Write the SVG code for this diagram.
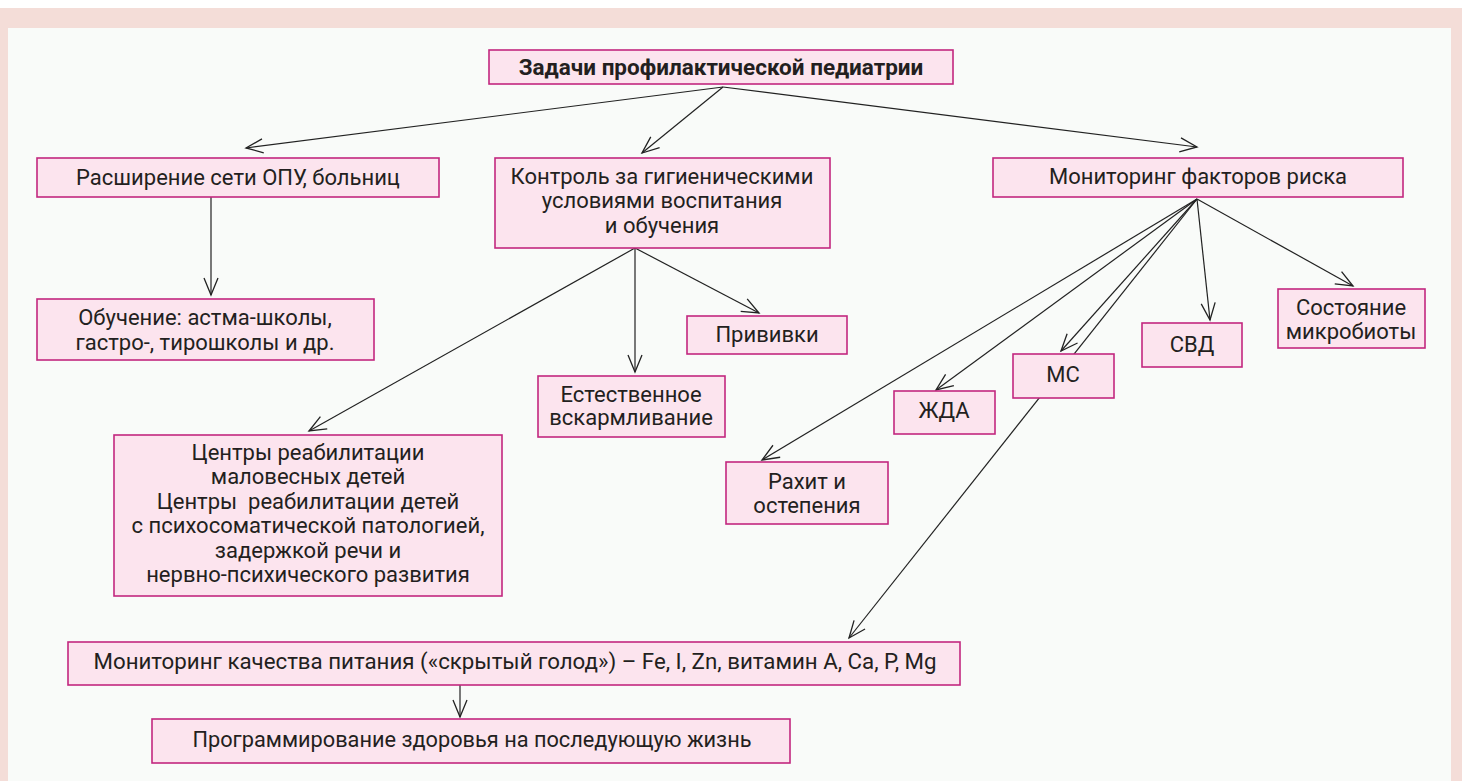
<svg xmlns="http://www.w3.org/2000/svg" width="1462" height="781" viewBox="0 0 1462 781">
<defs>
<marker id="arr" markerUnits="userSpaceOnUse" markerWidth="24" markerHeight="24" viewBox="-20 -12 24 24" refX="0" refY="0" orient="auto">
<path d="M-17,-7 L0,0 L-17,7" fill="none" stroke="#222" stroke-width="1.3"/>
</marker>
<style>
.box{fill:#fce4ee;stroke:#c2277f;stroke-width:1.6}
.t{font-family:Roboto,"Liberation Sans",sans-serif;font-size:22px;fill:#231f20;text-anchor:middle}
.b{font-weight:bold;font-size:22.5px}
.c line{stroke:#222;stroke-width:1.2;marker-end:url(#arr)}
</style>
</defs>
<rect x="0" y="0" width="1462" height="781" fill="#ffffff"/>
<rect x="0" y="8" width="1462" height="773" fill="#f4ddd8"/>
<rect x="8" y="28" width="1443" height="753" fill="#f9fbf9"/>
<g id="connectors" class="c">
<line x1="723" y1="87" x2="246" y2="148"/>
<line x1="723" y1="87" x2="642" y2="153"/>
<line x1="723" y1="87" x2="1197" y2="147"/>
<line x1="211" y1="197" x2="211" y2="295"/>
<line x1="635" y1="248" x2="309" y2="431"/>
<line x1="635" y1="248" x2="635" y2="372"/>
<line x1="635" y1="248" x2="759" y2="313"/>
<line x1="1197" y1="199" x2="762" y2="460"/>
<line x1="1197" y1="199" x2="936" y2="390"/>
<line x1="1197" y1="199" x2="1061" y2="351"/>
<line x1="1197" y1="199" x2="849" y2="638"/>
<line x1="1197" y1="199" x2="1210" y2="320"/>
<line x1="1197" y1="199" x2="1353" y2="286"/>
<line x1="460" y1="685" x2="460" y2="717"/>
</g>
<g id="n-top"><rect class="box" x="489" y="50" width="464" height="34"/><text class="t b" x="721" y="75">Задачи профилактической педиатрии</text></g>
<g id="n-rasshirenie"><rect class="box" x="37" y="158" width="402" height="39"/><text class="t" x="238" y="185">Расширение сети ОПУ, больниц</text></g>
<g id="n-kontrol"><rect class="box" x="495" y="158" width="335" height="90"/><text class="t" x="662" y="184">Контроль за гигиеническими</text><text class="t" x="662" y="208">условиями воспитания</text><text class="t" x="662" y="233">и обучения</text></g>
<g id="n-monitoring"><rect class="box" x="993" y="158" width="410" height="39"/><text class="t" x="1198" y="184">Мониторинг факторов риска</text></g>
<g id="n-obuchenie"><rect class="box" x="37" y="299" width="337" height="61"/><text class="t" x="205" y="325">Обучение: астма-школы,</text><text class="t" x="205" y="350">гастро-, тирошколы и др.</text></g>
<g id="n-centry"><rect class="box" x="114" y="435" width="388" height="161"/>
<text class="t" x="308" y="460">Центры реабилитации</text>
<text class="t" x="308" y="484">маловесных детей</text>
<text class="t" x="308" y="509" xml:space="preserve">Центры  реабилитации детей</text>
<text class="t" x="308" y="533">с психосоматической патологией,</text>
<text class="t" x="308" y="558">задержкой речи и</text>
<text class="t" x="308" y="582">нервно-психического развития</text></g>
<g id="n-privivki"><rect class="box" x="687" y="316" width="160" height="38"/><text class="t" x="767" y="342">Прививки</text></g>
<g id="n-estestvennoe"><rect class="box" x="538" y="376" width="187" height="61"/><text class="t" x="631" y="402">Естественное</text><text class="t" x="631" y="425">вскармливание</text></g>
<g id="n-zhda"><rect class="box" x="894" y="391" width="101" height="43"/><text class="t" x="944" y="418">ЖДА</text></g>
<g id="n-ms"><rect class="box" x="1013" y="354" width="101" height="44"/><text class="t" x="1063" y="382">МС</text></g>
<g id="n-svd"><rect class="box" x="1142" y="323" width="100" height="44"/><text class="t" x="1192" y="352">СВД</text></g>
<g id="n-mikrobiota"><rect class="box" x="1278" y="289" width="147" height="59"/><text class="t" x="1351" y="315">Состояние</text><text class="t" x="1351" y="339">микробиоты</text></g>
<g id="n-rahit"><rect class="box" x="726" y="462" width="162" height="62"/><text class="t" x="807" y="489">Рахит и</text><text class="t" x="807" y="513">остепения</text></g>
<g id="n-pitanie"><rect class="box" x="68" y="642" width="892" height="43"/><text class="t" x="515" y="669" textLength="843" lengthAdjust="spacingAndGlyphs">Мониторинг качества питания («скрытый голод») – Fe, I, Zn, витамин A, Ca, P, Mg</text></g>
<g id="n-programmirovanie"><rect class="box" x="152" y="719" width="638" height="44"/><text class="t" x="472" y="747" textLength="559" lengthAdjust="spacingAndGlyphs">Программирование здоровья на последующую жизнь</text></g>
</svg>
